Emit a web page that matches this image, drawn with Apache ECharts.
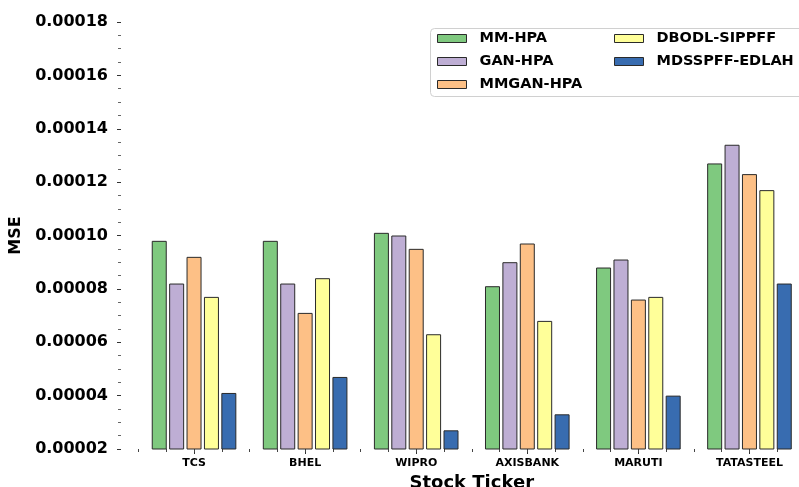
<!DOCTYPE html>
<html>
<head>
<meta charset="utf-8">
<script src="https://cdn.jsdelivr.net/npm/echarts@6/dist/echarts.min.js"></script>
<style>
  html, body { margin: 0; padding: 0; background: #fff; }
  #main { width: 799px; height: 487px; }
</style>
</head>
<body>
<div id="main"></div>
<script>
// chart data
var tickers = ['TCS', 'BHEL', 'WIPRO', 'AXISBANK', 'MARUTI', 'TATASTEEL']
var mmHpa = [0.000098, 0.000098, 0.000101, 0.000081, 0.000088, 0.000127]
var ganHpa = [0.000082, 0.000082, 0.000100, 0.000090, 0.000091, 0.000134]
var mmganHpa = [0.000092, 0.000071, 0.000095, 0.000097, 0.000076, 0.000123]
var dbodlSippff = [0.000077, 0.000084, 0.000063, 0.000068, 0.000077, 0.000117]
var mdsspffEdlah = [0.000041, 0.000047, 0.000027, 0.000033, 0.000040, 0.000082]

var names = ['MM-HPA', 'GAN-HPA', 'MMGAN-HPA', 'DBODL-SIPPFF', 'MDSSPFF-EDLAH']
var colors = ['#7fc97f', '#beaed4', '#fdc086', '#ffff99', '#386cb0']
var values = [mmHpa, ganHpa, mmganHpa, dbodlSippff, mdsspffEdlah]

var font = 'DejaVu Sans'
const myCharts = echarts.init(document.getElementById('main'))

var series = []
for (var i = 0; i < names.length; i++) {
  series.push({
    name: names[i],
    type: 'bar',
    xAxisIndex: 0,
    barWidth: 15,
    barGap: '16%',
    itemStyle: { color: colors[i], borderColor: '#2a2a2a', borderWidth: 1 },
    data: values[i]
  })
}

var legendText = {
  fontFamily: font, fontWeight: 'bold', fontSize: 14.5, color: '#000',
  padding: [0, 0, 0, 8]
}
const option = {
  animation: false,
  textStyle: { fontFamily: font },
  grid: { left: 138.5, right: -6, top: 22, bottom: 38, outerBoundsMode: 'none', containLabel: false },
  graphic: [{
    type: 'rect',
    shape: { x: 430.5, y: 28.5, width: 400, height: 68, r: 4 },
    style: { fill: '#fff', stroke: '#d0d0d0', lineWidth: 1 },
    z: 50
  }],
  legend: [
    {
      orient: 'vertical', left: 432, top: 26, itemWidth: 29, itemHeight: 8, itemGap: 8,
      icon: 'rect', textStyle: legendText, z: 60,
      itemStyle: { borderColor: '#2a2a2a', borderWidth: 1 },
      data: names.slice(0, 3)
    },
    {
      orient: 'vertical', left: 609, top: 26, itemWidth: 29, itemHeight: 8, itemGap: 8,
      icon: 'rect', textStyle: legendText, z: 60,
      itemStyle: { borderColor: '#2a2a2a', borderWidth: 1 },
      data: names.slice(3)
    }
  ],
  xAxis: [
    {
      type: 'category',
      data: tickers,
      name: 'Stock Ticker',
      nameLocation: 'middle',
      nameGap: 22,
      nameTextStyle: { fontFamily: font, fontWeight: 'bold', fontSize: 18, color: '#000' },
      axisLine: { show: false, onZero: false },
      axisTick: { show: true, alignWithLabel: true, length: 5, lineStyle: { color: '#333' } },
      axisLabel: { fontFamily: font, fontWeight: 'bold', fontSize: 11, color: '#000', margin: 9 },
      splitLine: { show: false }
    },
    {
      type: 'value',
      position: 'bottom',
      min: -0.5,
      max: 5.5,
      interval: 0.25,
      axisLine: { show: false, onZero: false },
      axisTick: { show: true, length: 3, lineStyle: { color: '#444' } },
      axisLabel: { show: false },
      splitLine: { show: false }
    }
  ],
  yAxis: {
    type: 'value',
    min: 0.00002,
    max: 0.00018,
    interval: 0.00002,
    offset: 17.5,
    name: 'MSE',
    nameLocation: 'middle',
    nameGap: 88,
    nameTextStyle: { fontFamily: font, fontWeight: 'bold', fontSize: 16, color: '#000' },
    axisLine: { show: false, onZero: false },
    axisTick: { show: true, length: 4, lineStyle: { color: '#333' } },
    minorTick: { show: true, splitNumber: 4, length: 3, lineStyle: { color: '#666' } },
    axisLabel: {
      fontFamily: font, fontWeight: 'bold', fontSize: 16, color: '#000', margin: 13,
      formatter: function (v) { return v.toFixed(5) }
    },
    splitLine: { show: false }
  },
  series: series
}
myCharts.setOption(option)
</script>
</body>
</html>
